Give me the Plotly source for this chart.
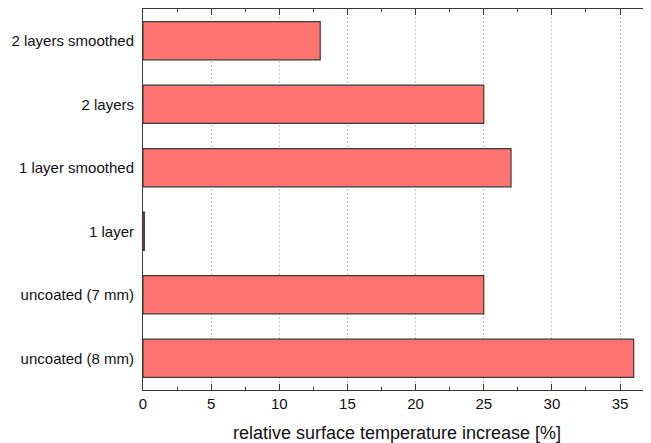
import plotly.graph_objects as go

categories = ["uncoated (8 mm)", "uncoated (7 mm)", "1 layer", "1 layer smoothed", "2 layers", "2 layers smoothed"]
values = [36.0, 25.0, 0.1, 27.0, 25.0, 13.0]
x_ticks = [0, 5, 10, 15, 20, 25, 30, 35]

fig = go.Figure()
fig.add_trace(go.Bar(
    x=values, y=categories, orientation="h",
    width=0.6,
    marker=dict(color="#FF7370", line=dict(color="#3A3A3A", width=1.2)),
))

# page body adds an 8px margin, so the figure is sized to fit the 651x443 window
fig.update_layout(
    width=643, height=435,
    margin=dict(l=135, r=0, t=1, b=53, autoexpand=False),
    plot_bgcolor="white", paper_bgcolor="white",
    showlegend=False,
    font=dict(family="Liberation Sans, Arial, sans-serif", size=15, color="#111"),
)
fig.update_xaxes(
    range=[0, 37.27], automargin=False,
    tickmode="array", tickvals=x_ticks, ticktext=[str(t) for t in x_ticks],
    ticks="inside", ticklen=6, tickcolor="#3A3A3A", tickwidth=1,
    minor=dict(ticks="inside", ticklen=3, dtick=2.5, tick0=0, tickcolor="#3A3A3A", showgrid=False),
    showline=True, linecolor="#3A3A3A", linewidth=1, mirror="allticks",
    showgrid=True, gridcolor="#C4C4C4", griddash="2px,2px", gridwidth=1,
    zeroline=False,
    title=dict(text="relative surface temperature increase [%]", font=dict(size=18), standoff=16),
    tickfont=dict(size=15),
)
fig.update_yaxes(
    categoryorder="array", categoryarray=categories,
    range=[-0.5, 5.5], automargin=False,
    showline=True, linecolor="#3A3A3A", linewidth=1,
    ticks="", ticklabelstandoff=5,
    showgrid=False, zeroline=False,
    tickfont=dict(size=15),
)

fig.write_html("out.html")
